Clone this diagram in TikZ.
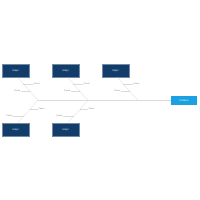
\documentclass[tikz,border=0pt]{standalone}
\usepackage{fontspec}
\setmainfont{Liberation Sans}
\usetikzlibrary{positioning}
\definecolor{navy}{HTML}{123D6A}
\definecolor{effectblue}{HTML}{1BA0E2}
\definecolor{bonegray}{HTML}{DADADA}
\definecolor{labelgray}{HTML}{808080}
\tikzset{
	major/.style={fill=navy, draw=navy!60!white, line width=0.3pt, minimum width=1.35cm, minimum height=0.68cm, inner sep=0pt, text=white, font=\fontsize{3.5}{4}\selectfont},
	effect/.style={fill=effectblue, minimum width=1.3cm, minimum height=0.46cm, inner sep=0pt, text=white, font=\fontsize{3.5}{4}\selectfont},
	bone/.style={draw=bonegray, line width=0.35pt},
	cause/.style={text=labelgray, font=\fontsize{3}{3.5}\selectfont, inner sep=0.4pt},
	knot/.style={fill=labelgray!60}
}
\begin{document}
\begin{tikzpicture}[x=0.05cm, y=-0.05cm]
	\useasboundingbox (0,0) rectangle (200,200);
	% categories
	\node [major] (m1) at (15.8,70.6) {Major};
	\node [major] (m2) at (65.8,70.6) {Major};
	\node [major] (m3) at (115.6,70.6) {Major};
	\node [major] (m4) at (15.8,129.7) {Major};
	\node [major] (m5) at (65.8,129.7) {Major};
	\node [effect] (eff) at (184,100.3) {Problem};
	% spine
	\coordinate (j1) at (38,100.3);
	\coordinate (j2) at (88,100.3);
	\coordinate (j3) at (137.8,100.3);
	\draw [bone] (j1) -- (eff.west);
	% upper bones
	\draw [bone] ([xshift=0.1cm]m1.south) -- (j1) coordinate [pos=0.27] (c1a) coordinate [pos=0.59] (c1b);
	\draw [bone] ([xshift=0.1cm]m2.south) -- (j2) coordinate [pos=0.27] (c2a) coordinate [pos=0.59] (c2b);
	\draw [bone] ([xshift=0.1cm]m3.south) -- (j3) coordinate [pos=0.27] (c3a) coordinate [pos=0.59] (c3b);
	% lower bones
	\draw [bone] ([xshift=0.1cm]m4.north) -- (j1) coordinate [pos=0.61] (c4a) coordinate [pos=0.3] (c4b);
	\draw [bone] ([xshift=0.1cm]m5.north) -- (j2) coordinate [pos=0.61] (c5a) coordinate [pos=0.3] (c5b);
	% causes
	\node [cause, right=0.5cm of c1a] (t1a) {Cause};
	\node [cause, left=0.45cm of c1b] (t1b) {Cause};
	\node [cause, right=0.5cm of c2a] (t2a) {Cause};
	\node [cause, left=0.45cm of c2b] (t2b) {Cause};
	\node [cause, right=0.5cm of c3a] (t3a) {Cause};
	\node [cause, left=0.45cm of c3b] (t3b) {Cause};
	\node [cause, right=0.4cm of c4a] (t4a) {Cause};
	\node [cause, left=0.55cm of c4b] (t4b) {Cause};
	\node [cause, right=0.4cm of c5a] (t5a) {Cause};
	\node [cause, left=0.55cm of c5b] (t5b) {Cause};
	\draw [bone] (c1a) -- (t1a.west);
	\draw [bone] (c1b) -- (t1b.east);
	\draw [bone] (c2a) -- (t2a.west);
	\draw [bone] (c2b) -- (t2b.east);
	\draw [bone] (c3a) -- (t3a.west);
	\draw [bone] (c3b) -- (t3b.east);
	\draw [bone] (c4a) -- (t4a.west);
	\draw [bone] (c4b) -- (t4b.east);
	\draw [bone] (c5a) -- (t5a.west);
	\draw [bone] (c5b) -- (t5b.east);
	% knots
	\fill [knot] (c1a) circle (0.25pt) (c1b) circle (0.25pt) (c2a) circle (0.25pt) (c2b) circle (0.25pt);
	\fill [knot] (c3a) circle (0.25pt) (c3b) circle (0.25pt) (c4a) circle (0.25pt) (c4b) circle (0.25pt);
	\fill [knot] (c5a) circle (0.25pt) (c5b) circle (0.25pt) (j1) circle (0.25pt) (j2) circle (0.25pt) (j3) circle (0.25pt);
\end{tikzpicture}
\end{document}
